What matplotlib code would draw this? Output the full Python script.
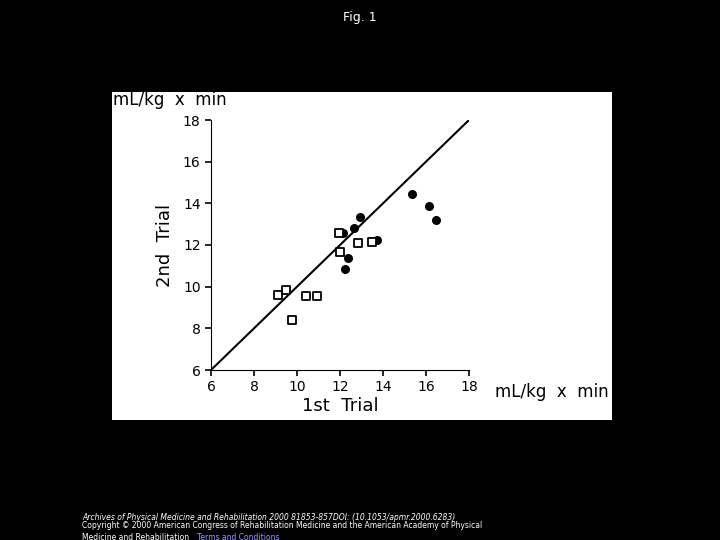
import matplotlib
matplotlib.use("Agg")
import matplotlib.pyplot as plt

sq_x = [11.95, 12.82, 13.47, 12.0, 9.13, 9.49, 10.40, 10.91, 9.77]
sq_y = [12.59, 12.08, 12.14, 11.68, 9.6, 9.84, 9.54, 9.54, 8.38]
ci_x = [15.37, 16.14, 16.45, 12.93, 12.65, 12.16, 13.7, 12.36, 12.23]
ci_y = [14.45, 13.87, 13.2, 13.36, 12.8, 12.59, 12.23, 11.36, 10.83]
ticks = [6, 8, 10, 12, 14, 16, 18]

fig = plt.figure(figsize=(7.2, 5.4), dpi=100, facecolor="black")
fig.text(0.5, 1 - 18/540, "Fig. 1", color="white", ha="center", va="center", fontsize=9)

bg = fig.add_axes([112/720, 1 - 420/540, 500/720, 328/540])
bg.set_facecolor("white"); bg.set_xticks([]); bg.set_yticks([])
for s in bg.spines.values(): s.set_visible(False)

ax = fig.add_axes([211/720, 170/540, 258/720, 250/540])
ax.set_facecolor("white")
ax.plot([6, 18], [6, 18], color="black", lw=1.5)
ax.scatter(ci_x, ci_y, marker="o", s=30, color="black", zorder=3)
ax.scatter(sq_x, sq_y, marker="s", s=40, facecolor="white", edgecolor="black", lw=1.3, zorder=4)
ax.set_xlim(6, 18); ax.set_ylim(6, 18)
ax.set_xticks(ticks); ax.set_yticks(ticks)
ax.spines["top"].set_visible(False); ax.spines["right"].set_visible(False)
ax.tick_params(direction="out", labelsize=10, width=1.2, length=4)
ax.set_xlabel("1st  Trial", fontsize=13, labelpad=2)
ax.set_ylabel("2nd  Trial", fontsize=13, labelpad=6)
fig.text(113/720, 1 - 100/540, "mL/kg  x  min", fontsize=12, va="center", ha="left")
fig.text(495/720, 1 - 392/540, "mL/kg  x  min", fontsize=12, va="center", ha="left")

fig.text(82/720, 1 - 518/540, "Archives of Physical Medicine and Rehabilitation 2000 81853-857DOI: (10.1053/apmr.2000.6283)",
         color="white", fontsize=5.5, va="center", style="italic")
fig.text(82/720, 1 - 526/540, "Copyright © 2000 American Congress of Rehabilitation Medicine and the American Academy of Physical",
         color="white", fontsize=5.5, va="center")
fig.text(82/720, 1 - 537/540, "Medicine and Rehabilitation", color="white", fontsize=5.5, va="center")
fig.text(197/720, 1 - 537/540, "Terms and Conditions", color="#9999ff", fontsize=5.5, va="center")
fig.savefig("out.png", dpi=100, facecolor="black")
